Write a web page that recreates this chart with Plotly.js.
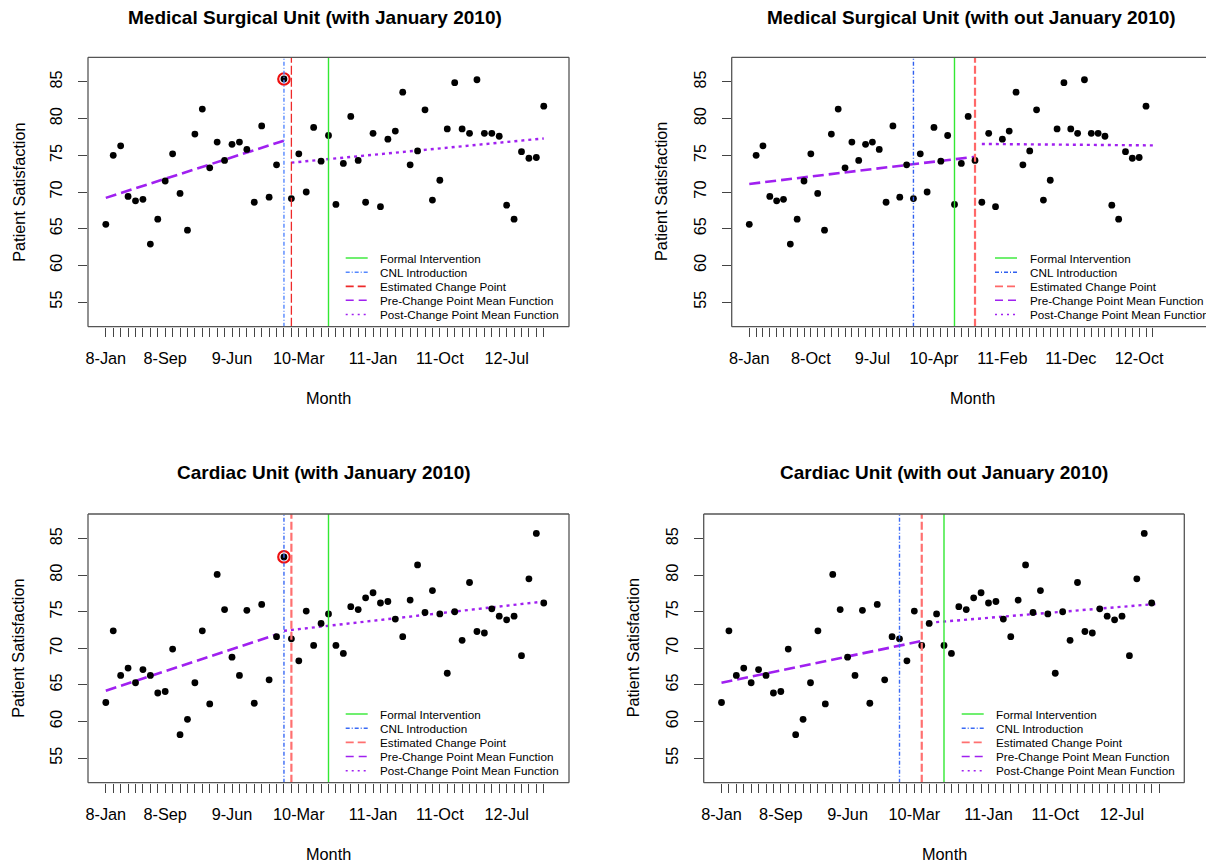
<!DOCTYPE html>
<html>
<head>
<meta charset="utf-8">
<script src="https://cdn.plot.ly/plotly-3.0.1.min.js"></script>
<style>html,body{margin:0;padding:0;background:#fff;}#chart{width:1206px;height:863px;}</style>
</head>
<body>
<div id="chart"></div>
<script>
// ---------------- DATA ----------------
const monthNames = ['Jan','Feb','Mar','Apr','May','Jun','Jul','Aug','Sep','Oct','Nov','Dec'];
const yearCodes = [8, 9, 10, 11, 12];
const monthLabels = [];
yearCodes.forEach(y => monthNames.forEach(m => monthLabels.push(y + '-' + m)));

// Labels that R was able to draw without overlap (indices into monthLabels)
const shownLabelsWith = [0, 8, 17, 26, 36, 45, 54];
const shownLabelsWithout = [0, 9, 18, 27, 37, 47, 57];
const shownLabelsCardiacWithout = [0, 8, 17, 26, 36, 45, 54];

const yTicks = [55, 60, 65, 70, 75, 80, 85];

// Medical Surgical Unit monthly patient satisfaction, Jan 2008 - Dec 2012
const medSurg = [
  65.6, 75.0, 76.3, 69.4, 68.8, 69.0, 62.9, 66.3, 71.5, 75.2,
  69.8, 64.8, 77.9, 81.3, 73.3, 76.8, 74.3, 76.5, 76.8, 75.8,
  68.6, 79.0, 69.3, 73.7, 85.4, 69.1, 75.2, 70.0, 78.8, 74.2,
  77.7, 68.3, 73.9, 80.3, 74.3, 68.6, 78.0, 68.0, 77.2, 78.3,
  83.6, 73.7, 75.6, 81.2, 68.9, 71.6, 78.6, 84.9, 78.6, 78.0,
  85.3, 78.0, 78.0, 77.6, 68.2, 66.3, 75.5, 74.6, 74.7, 81.7
];
// Cardiac Unit monthly patient satisfaction, Jan 2008 - Dec 2012
const cardiac = [
  62.6, 72.4, 66.3, 67.3, 65.3, 67.1, 66.3, 63.9, 64.1, 69.9,
  58.2, 60.3, 65.3, 72.4, 62.4, 80.1, 75.3, 68.8, 66.3, 75.2,
  62.5, 76.0, 65.7, 71.6, 82.5, 71.3, 68.3, 75.1, 70.4, 73.4,
  74.7, 70.4, 69.3, 75.7, 75.3, 76.9, 77.6, 76.2, 76.4, 74.0,
  71.6, 76.6, 81.4, 74.9, 77.9, 74.7, 66.6, 75.0, 71.1, 79.0,
  72.3, 72.1, 75.4, 74.4, 73.9, 74.4, 69.0, 79.5, 85.7, 76.2
];
const jan2010Index = 24;

// Event positions (x on each plot) : formal intervention, CNL introduction, estimated change point
const msWithEvents    = {formal: 31, cnl: 25, change: 26};
const msWithoutEvents = {formal: 31, cnl: 25, change: 34};
const cWithEvents     = {formal: 31, cnl: 25, change: 26};
const cWithoutEvents  = {formal: 31, cnl: 25, change: 28};

// Fitted mean functions (start/end x and values)
const msWithPre     = {x: [1, 25],  y: [69.2, 77.0]};
const msWithPost    = {x: [26, 60], y: [74.0, 77.3]};
const msWithoutPre  = {x: [1, 34],  y: [71.1, 74.8]};
const msWithoutPost = {x: [35, 60], y: [76.55, 76.35]};
const cWithPre      = {x: [1, 24],  y: [64.2, 71.9]};
const cWithPost     = {x: [25, 60], y: [72.4, 76.4]};
const cWithoutPre   = {x: [1, 28],  y: [65.3, 71.0]};
const cWithoutPost  = {x: [29, 60], y: [73.5, 76.1]};

const legendLabels = ['Formal Intervention', 'CNL Introduction', 'Estimated Change Point',
                      'Pre-Change Point Mean Function', 'Post-Change Point Mean Function'];

// ---------------- LAYOUT HELPERS ----------------
const W = 1206, H = 863;
const FONT = '"Liberation Sans", Arial, Helvetica, sans-serif';
const AXF = 16.3;
const px = v => v / W;
const py = v => 1 - v / H;
const PURPLE = '#A020F0';
const GREEN = '#33e833';

const panels = [
  {title: 'Medical Surgical Unit (with January 2010)', titleX: 315, titleY: 17.5,
   L: 88, R: 569, frameR: 569, T: 57.3, B: 326.7, xr: [-1.4, 63.4],
   values: medSurg, dropJan: false, shown: shownLabelsWith, ev: msWithEvents,
   pre: msWithPre, post: msWithPost, circle: true,
   blue: '#5588ff', red: '#ee2a2a', redW: 1.3, redDash: '9px,3px',
   legLineX: 345.7, legTextX: 378.3, legRows: [258, 272.3, 286.3, 300.3, 314.5],
   yTitleX: 18.8},
  {title: 'Medical Surgical Unit (with out January 2010)', titleX: 971.5, titleY: 17.5,
   L: 731.7, R: 1206, frameR: 1213, T: 57.3, B: 326.7, xr: [-1.57, 67.77],
   values: medSurg, dropJan: true, shown: shownLabelsWithout, ev: msWithoutEvents,
   pre: msWithoutPre, post: msWithoutPost, circle: false,
   blue: '#2f5ff0', red: '#ff6868', redW: 2.2, redDash: '8px,3px',
   legLineX: 995, legTextX: 1027.7, legRows: [258, 272.3, 286.3, 300.3, 314.5],
   yTitleX: 661},
  {title: 'Cardiac Unit (with January 2010)', titleX: 324, titleY: 472.5,
   L: 88, R: 569, frameR: 569, T: 514, B: 782.7, xr: [-1.4, 63.4],
   values: cardiac, dropJan: false, shown: shownLabelsWith, ev: cWithEvents,
   pre: cWithPre, post: cWithPost, circle: true,
   blue: '#3a6af5', red: '#ff7070', redW: 2.2, redDash: '8px,3px',
   legLineX: 345.7, legTextX: 378.3, legRows: [714, 728.3, 742.3, 756.5, 770.7],
   yTitleX: 18.5},
  {title: 'Cardiac Unit (with out January 2010)', titleX: 944, titleY: 472.5,
   L: 703.7, R: 1184.3, frameR: 1184.3, T: 514, B: 782.7, xr: [-1.4, 63.4],
   values: cardiac, dropJan: true, shown: shownLabelsCardiacWithout, ev: cWithoutEvents,
   pre: cWithoutPre, post: cWithoutPost, circle: false,
   blue: '#3a6af5', red: '#ff7070', redW: 2.2, redDash: '8px,3px',
   legLineX: 961.7, legTextX: 994.3, legRows: [714, 728.3, 742.3, 756.5, 770.7],
   yTitleX: 633}
];

const traces = [], shapes = [], annotations = [];
const layout = {
  width: W, height: H, margin: {l: 0, r: 0, t: 0, b: 0},
  paper_bgcolor: '#fff', plot_bgcolor: 'rgba(0,0,0,0)',
  showlegend: false, font: {family: FONT, color: '#000'}
};

panels.forEach((p, i) => {
  const n = i + 1;
  const xa = n === 1 ? 'x' : 'x' + n, ya = n === 1 ? 'y' : 'y' + n;
  const xKey = n === 1 ? 'xaxis' : 'xaxis' + n, yKey = n === 1 ? 'yaxis' : 'yaxis' + n;

  const vals = p.dropJan ? p.values.filter((v, k) => k !== jan2010Index) : p.values.slice();
  const xs = vals.map((v, k) => k + 1);
  const tickvals = monthLabels.map((m, k) => k + 1);
  const ticktext = monthLabels.map((m, k) => p.shown.includes(k) ? m : '');

  layout[xKey] = {
    domain: [px(p.L), px(p.R)], range: p.xr, anchor: ya,
    tickmode: 'array', tickvals: tickvals, ticktext: ticktext,
    ticks: 'outside', ticklen: 9, tickwidth: 1, tickcolor: '#444',
    tickfont: {size: AXF, family: FONT, color: '#000'}, ticklabelstandoff: 8,
    showgrid: false, zeroline: false, showline: false, fixedrange: true
  };
  layout[yKey] = {
    domain: [py(p.B), py(p.T)], range: [51.64, 88.36], anchor: xa,
    tickmode: 'array', tickvals: yTicks, ticktext: yTicks.map(String),
    ticks: 'outside', ticklen: 9, tickwidth: 1, tickcolor: '#444', tickangle: -90,
    tickfont: {size: AXF, family: FONT, color: '#000'}, ticklabelstandoff: 9,
    showgrid: false, zeroline: false, showline: false, fixedrange: true
  };

  // vertical reference lines
  const vline = (x, color, width, dash) => shapes.push({
    type: 'line', xref: xa, yref: ya + ' domain', x0: x, x1: x, y0: 0, y1: 1,
    line: {color: color, width: width, dash: dash}, layer: 'above'
  });
  vline(p.ev.cnl, p.blue, 1.4, '4px,2px,1px,2px');
  vline(p.ev.change, p.red, p.redW, p.redDash);
  vline(p.ev.formal, GREEN, 1.4, 'solid');

  // mean function lines
  traces.push({x: p.pre.x, y: p.pre.y, xaxis: xa, yaxis: ya, mode: 'lines', type: 'scatter',
    line: {color: PURPLE, width: 2.6, dash: '11px,5px'}, hoverinfo: 'skip'});
  traces.push({x: p.post.x, y: p.post.y, xaxis: xa, yaxis: ya, mode: 'lines', type: 'scatter',
    line: {color: PURPLE, width: 2.4, dash: '3px,4px'}, hoverinfo: 'skip'});

  // points
  traces.push({x: xs, y: vals, xaxis: xa, yaxis: ya, mode: 'markers', type: 'scatter',
    marker: {color: '#000', size: 6.8}, cliponaxis: false});

  if (p.circle) {
    traces.push({x: [jan2010Index + 1], y: [p.values[jan2010Index]], xaxis: xa, yaxis: ya,
      mode: 'markers', type: 'scatter',
      marker: {symbol: 'circle-open', color: '#ee1111', size: 11.5, line: {width: 2.2, color: '#ee1111'}}});
  }

  // frame
  const fc = '#555';
  [[p.L, p.T, p.frameR, p.T], [p.L, p.B, p.frameR, p.B], [p.L, p.T, p.L, p.B], [p.frameR, p.T, p.frameR, p.B]]
    .forEach(s => shapes.push({type: 'line', xref: 'paper', yref: 'paper',
      x0: px(s[0]), y0: py(s[1]), x1: px(s[2]), y1: py(s[3]), line: {color: fc, width: 1.3}, layer: 'above'}));

  // titles
  annotations.push({text: '<b>' + p.title + '</b>', xref: 'paper', yref: 'paper', x: px(p.titleX), y: py(p.titleY),
    xanchor: 'center', yanchor: 'middle', showarrow: false, font: {size: 19, family: FONT, color: '#000'}});
  annotations.push({text: 'Month', xref: 'paper', yref: 'paper', x: px((p.L + p.frameR) / 2), y: py(p.B + 71),
    xanchor: 'center', yanchor: 'middle', showarrow: false, font: {size: AXF, family: FONT, color: '#000'}});
  annotations.push({text: 'Patient Satisfaction', xref: 'paper', yref: 'paper', x: px(p.yTitleX), y: py((p.T + p.B) / 2),
    xanchor: 'center', yanchor: 'middle', textangle: -90, showarrow: false, font: {size: AXF, family: FONT, color: '#000'}});

  // legend
  const legStyles = [
    {color: GREEN, width: 1.4, dash: 'solid'},
    {color: p.blue, width: 1.4, dash: '4px,2px,1px,2px'},
    {color: p.red, width: 1.8, dash: '8px,4px'},
    {color: PURPLE, width: 1.4, dash: '8px,5px'},
    {color: PURPLE, width: 1.4, dash: '2px,4px'}
  ];
  legendLabels.forEach((lab, k) => {
    const yy = p.legRows[k];
    shapes.push({type: 'line', xref: 'paper', yref: 'paper', x0: px(p.legLineX), x1: px(p.legLineX + 22),
      y0: py(yy), y1: py(yy), line: legStyles[k]});
    annotations.push({text: lab, xref: 'paper', yref: 'paper', x: px(p.legTextX), y: py(yy),
      xanchor: 'left', yanchor: 'middle', showarrow: false, font: {size: 11.7, family: FONT, color: '#000'}});
  });
});

layout.shapes = shapes;
layout.annotations = annotations;
Plotly.newPlot('chart', traces, layout, {staticPlot: true, displayModeBar: false});
</script>
</body>
</html>
